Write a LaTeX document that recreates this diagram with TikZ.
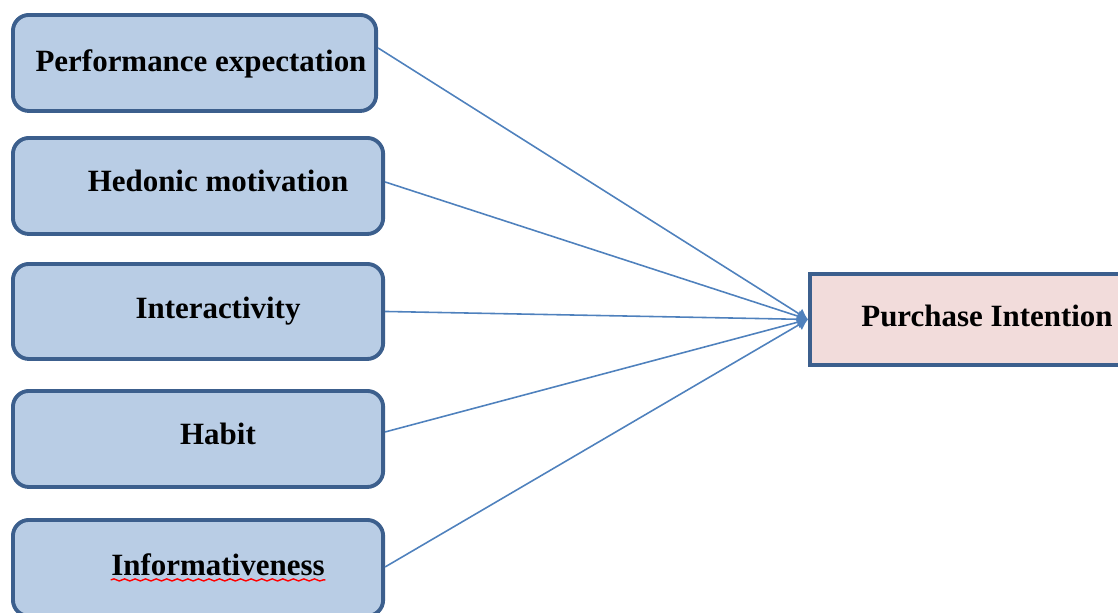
\documentclass[tikz,border=0pt]{standalone}
\usepackage{fontspec}
\setmainfont{Liberation Serif}
\usetikzlibrary{arrows.meta,decorations.pathmorphing}
\definecolor{boxblue}{HTML}{B9CDE5}
\definecolor{boxline}{HTML}{3C5F8D}
\definecolor{boxpink}{HTML}{F2DCDB}
\definecolor{linkblue}{HTML}{4F81BD}
\tikzset{
  factor/.style={draw=boxline, fill=boxblue, line width=1.1pt, rounded corners=0.16cm,
    inner sep=0pt, anchor=north west, minimum height=0.96cm},
  outcome/.style={draw=boxline, fill=boxpink, line width=1.1pt, inner sep=0pt,
    anchor=north west, minimum width=3.6cm, minimum height=0.91cm},
  lbl/.style={font=\fontsize{8.8}{10}\selectfont\bfseries, inner sep=0pt, anchor=base},
  link/.style={draw=linkblue, line width=0.45pt, -{Latex[length=3pt,width=3.5pt]}}
}
\begin{document}
\begin{tikzpicture}[x=0.01cm, y=-0.01cm]
    \useasboundingbox (0,0) rectangle (1118,612);
    \clip (0,0) rectangle (1118,612);
    % Factors
    \node[factor, minimum width=3.63cm] (perf) at (11,13) {};
    \node[factor, minimum width=3.70cm] (hedo) at (11,136) {};
    \node[factor, minimum width=3.70cm, minimum height=0.95cm] (inter) at (11,262) {};
    \node[factor, minimum width=3.70cm] (habit) at (11,389) {};
    \node[factor, minimum width=3.70cm] (info) at (11,518) {};
    % Outcome
    \node[outcome] (purch) at (808,272) {};
    % Labels
    \node[lbl] (tperf) at (201,71) {Performance expectation};
    \node[lbl] (thedo) at (218,191) {Hedonic motivation};
    \node[lbl] (tinter) at (218,318) {Interactivity};
    \node[lbl] (thabit) at (218,444) {Habit};
    \node[lbl] (tinfo) at (218,575) {Informativeness};
    \node[lbl] (tpurch) at (987,326) {Purchase Intention};
    \draw[red, line width=0.4pt, decorate, decoration={snake, amplitude=0.3pt, segment length=3pt}]
        ([yshift=-1.4pt]tinfo.base west) -- ([yshift=-1.4pt]tinfo.base east);
    % Paths
    \draw[link] ([yshift=0.15cm]perf.east) -- (purch.west);
    \draw[link] ([yshift=0.04cm]hedo.east) -- (purch.west);
    \draw[link] (inter.east) -- (purch.west);
    \draw[link] ([yshift=0.07cm]habit.east) -- (purch.west);
    \draw[link] ([yshift=0.01cm]info.east) -- (purch.west);
\end{tikzpicture}
\end{document}
